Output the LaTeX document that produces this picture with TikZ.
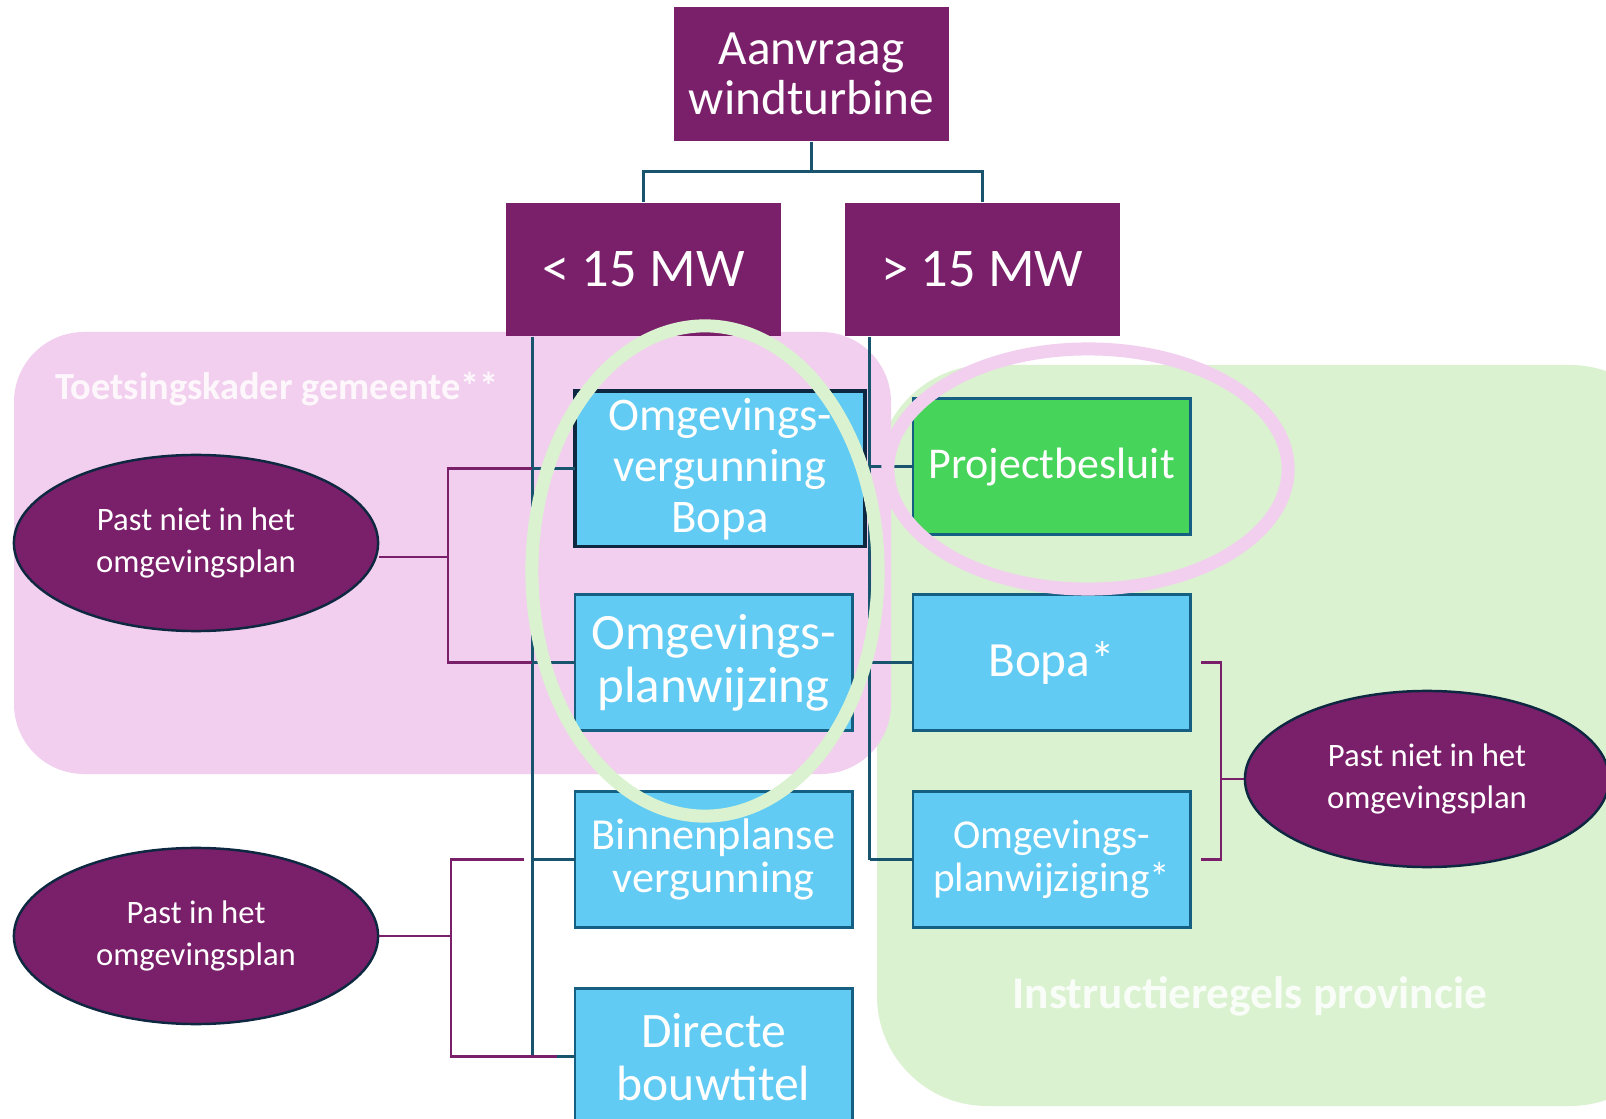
\documentclass[tikz,border=0pt]{standalone}
\usepackage{fontspec}
\setmainfont{Carlito}
\usetikzlibrary{positioning,shapes.geometric}

\definecolor{paars}{RGB}{122,31,106}
\definecolor{lichtblauw}{RGB}{97,203,243}
\definecolor{randblauw}{RGB}{21,96,130}
\definecolor{donkerblauw}{RGB}{14,40,65}
\definecolor{groen}{RGB}{71,212,90}
\definecolor{roze}{RGB}{242,207,238}
\definecolor{lichtgroen}{RGB}{218,242,208}
\definecolor{lijn}{RGB}{24,84,110}

\begin{document}
\begin{tikzpicture}[x=0.01cm, y=-0.01cm, node distance=0.61cm,
    paarsbox/.style={rectangle, fill=paars, text=white, inner sep=0pt, align=center,
      minimum width=2.75cm, minimum height=1.33cm},
    blauwbox/.style={rectangle, draw=randblauw, line width=0.8pt, fill=lichtblauw, text=white,
      inner sep=0pt, outer sep=0pt, align=center, minimum width=2.77cm, minimum height=1.36cm},
    toets/.style={ellipse, draw=donkerblauw, line width=0.7pt, fill=paars, text=white,
      inner sep=0pt, align=center, minimum width=3.64cm, minimum height=1.76cm,
      font=\fontsize{9.3}{12.2}\selectfont},
    kader/.style={text=white, text opacity=0.85, font=\bfseries},
    conn/.style={draw=lijn, line width=0.8pt},
    pconn/.style={draw=paars, line width=0.8pt},
    ring/.style={line width=0.13cm}]

    % Canvas
    \useasboundingbox (0,0) rectangle (1606,1119);
    \fill[white] (0,0) rectangle (1606,1119);
    \clip (0,0) rectangle (1606,1119);

    % Regions
    \fill[lichtgroen, rounded corners=1.1cm] (877,365) rectangle (1680,1106);
    \fill[roze, rounded corners=0.7cm] (14,332) rectangle (891,774);
    \node (gem) [kader, font=\bfseries\fontsize{10.9}{11}\selectfont] at (277,389) {Toetsingskader gemeente**};
    \node (prov) [kader, font=\bfseries\fontsize{12.9}{13}\selectfont] at (1250,996) {Instructieregels provincie};

    % Nodes
    \node (top) [paarsbox, minimum height=1.34cm, font=\fontsize{14}{14}\selectfont] at (811.5,74) {Aanvraag\\windturbine};
    \node (lt) [paarsbox, font=\fontsize{15.5}{16}\selectfont] at (643.5,269.5) {< 15 MW};
    \node (gt) [paarsbox, right=0.62cm of lt, font=\fontsize{15.5}{16}\selectfont] {> 15 MW};

    \node (ovb) [blauwbox, draw=donkerblauw, line width=1pt, anchor=north west, minimum width=2.9cm,
      minimum height=1.555cm, font=\fontsize{13.3}{14.5}\selectfont] at (575,391) {Omgevings-\\vergunning\\Bopa};
    \node (opw) [blauwbox, below=0.48cm of ovb.south west, anchor=north west,
      font=\fontsize{14.5}{15}\selectfont] {Omgevings-\\planwijzing};
    \node (bin) [blauwbox, below=of opw, font=\fontsize{12.6}{12.2}\selectfont] {Binnenplanse\\vergunning};
    \node (db) [blauwbox, below=of bin, font=\fontsize{14.1}{15}\selectfont] {Directe\\bouwtitel};

    \node (pb) [blauwbox, fill=groen, anchor=north west,
      font=\fontsize{12.5}{13}\selectfont] at (913,398.5) {Projectbesluit};
    \node (bp) [blauwbox, below=0.6cm of pb, font=\fontsize{14}{14}\selectfont] {Bopa*};
    \node (opw2) [blauwbox, below=of bp, font=\fontsize{11.7}{12.2}\selectfont] {Omgevings-\\planwijziging*};

    \node (e1) [toets] at (196,543) {Past niet in het\\omgevingsplan};
    \node (e2) [toets] at (196,936) {Past in het\\omgevingsplan};
    \node (e3) [toets] at (1427,779) {Past niet in het\\omgevingsplan};

    % Lines
    \draw[conn] (top.south) -- ++(0,30) -| (lt.north);
    \draw[conn] (top.south) -- ++(0,30) -| (gt.north);

    \coordinate (lx) at ([xshift=0.27cm]lt.south west);
    \draw[conn] (lx) -- (lx |- db.west);
    \foreach \b in {ovb,opw,bin,db}
      \draw[conn] (lx |- \b.west) -- (\b.west);

    \coordinate (rx) at ([xshift=0.26cm]gt.south west);
    \draw[conn] (rx) -- (rx |- opw2.west);
    \foreach \b in {pb,bp,opw2}
      \draw[conn] (rx |- \b.west) -- (\b.west);

    \coordinate (bx1) at (448,0);
    \coordinate (e1uit) at ([yshift=-0.14cm]e1.east);
    \draw[pconn] (e1uit) -- (bx1 |- e1uit);
    \draw[pconn] (lx |- ovb.west) -| (bx1 |- e1uit) |- (lx |- opw.west);

    \coordinate (bx2) at (451,0);
    \draw[pconn] (e2.east) -- (bx2 |- e2.east);
    \draw[pconn] ([xshift=-0.08cm]lx |- bin.west) -| (bx2 |- e2.east) |- ([xshift=0.25cm]lx |- db.west);

    \coordinate (bx3) at (1221,0);
    \draw[pconn] ([xshift=0.11cm]bp.east) -| (bx3 |- e3.west) |- ([xshift=0.11cm]opw2.east);
    \draw[pconn] (bx3 |- e3.west) -- (e3.west);

    % Rings
    \draw[ring, lichtgroen] (705,571) ellipse [x radius=1.73cm, y radius=2.45cm];
    \draw[ring, roze] (1088,469) ellipse [x radius=2cm, y radius=1.2cm];
\end{tikzpicture}
\end{document}
